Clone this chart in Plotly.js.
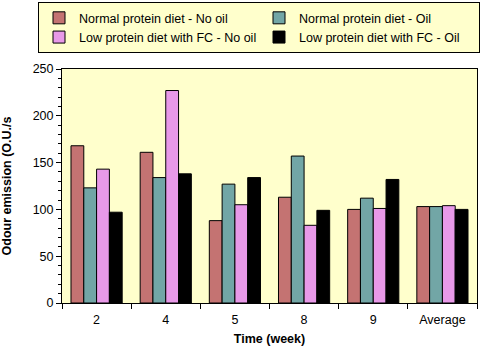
<!DOCTYPE html>
<html><head><meta charset="utf-8">
<script src="https://cdn.plot.ly/plotly-3.0.1.min.js"></script>
<style>html,body{margin:0;padding:0;background:#fff}#c{width:480px;height:353px}</style>
</head><body><div id="c"></div>
<script>
const categories = ["2", "4", "5", "8", "9", "Average"];
const seriesNames = ["Normal protein diet - No oil", "Normal protein diet - Oil", "Low protein diet with FC - No oil", "Low protein diet with FC - Oil"];
const normalNoOil = [168, 161, 88, 113, 100, 103];
const normalOil = [123, 134, 127, 157, 112, 103];
const lowFcNoOil = [143, 227, 105, 83, 101, 104];
const lowFcOil = [97, 138, 134, 99, 132, 100];
const colors = ["#C47372", "#72A6A6", "#E899E8", "#000000"];
const values = [normalNoOil, normalOil, lowFcNoOil, lowFcOil];

const traces = values.map((v, i) => ({
  type: 'bar', x: categories, y: v, name: seriesNames[i],
  marker: {color: colors[i], line: {color: '#000', width: 1}}
}));
const font = {family: 'Liberation Sans, Arial, sans-serif', size: 12.5, color: '#000'};
const layout = {
  width: 480, height: 353,
  margin: {l: 62, r: 3, t: 68, b: 50},
  paper_bgcolor: '#fff', plot_bgcolor: '#FFFFCC',
  font: font,
  barmode: 'group', bargap: 0.26, bargroupgap: 0,
  showlegend: true,
  legend: {orientation: 'h', x: -0.052, y: 1.28, xanchor: 'left', yanchor: 'top',
    bgcolor: '#FFFFCC', bordercolor: '#000', borderwidth: 1,
    entrywidth: 175, entrywidthmode: 'pixels', traceorder: 'normal',
    itemwidth: 30, tracegroupgap: 0, font: font},
  xaxis: {type: 'category', showline: true, linecolor: '#000', linewidth: 1, mirror: true,
    ticks: 'outside', tickson: 'boundaries', ticklen: 5, tickcolor: '#000',
    ticklabelstandoff: 5,
    showgrid: false, tickfont: font,
    title: {text: '<b>Time (week)</b>', font: font, standoff: 8}},
  yaxis: {range: [0, 250], dtick: 50, showline: true, linecolor: '#000', linewidth: 1, mirror: true,
    ticks: 'outside', ticklen: 5, tickcolor: '#000', showgrid: false, zeroline: false,
    minor: {ticks: 'outside', dtick: 10, ticklen: 3, tickcolor: '#000', showgrid: false},
    tickfont: font,
    title: {text: '<b>Odour emission (O.U./s</b>', font: font, standoff: 18}}
};
Plotly.newPlot('c', traces, layout, {displayModeBar: false, staticPlot: true});
</script></body></html>
